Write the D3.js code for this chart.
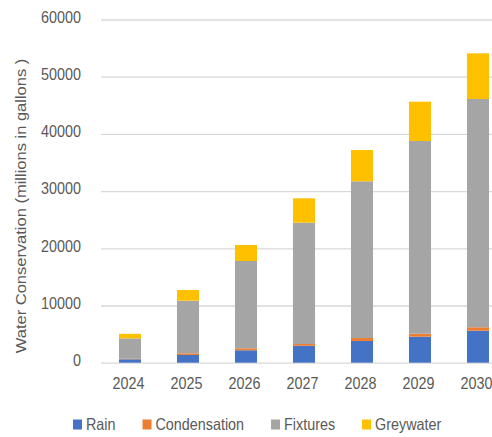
<!DOCTYPE html>
<html>
<head>
<meta charset="utf-8">
<script src="https://cdn.jsdelivr.net/npm/d3@7"></script>
<style>
  html, body { margin: 0; padding: 0; background: #fff; }
  text { font-family: "Liberation Sans", Arial, sans-serif; fill: #595959; }
</style>
</head>
<body>
<svg id="chart"></svg>
<script>
const years = ["2024", "2025", "2026", "2027", "2028", "2029", "2030"];
const rain = [600, 1350, 2170, 2970, 3790, 4550, 5590];
const condensation = [80, 290, 350, 300, 530, 520, 600];
const fixtures = [3570, 9200, 15260, 21210, 27390, 33690, 39910];
const greywater = [800, 1870, 2800, 4260, 5480, 6870, 7990];
const seriesNames = ["Rain", "Condensation", "Fixtures", "Greywater"];
const yTicks = [0, 10000, 20000, 30000, 40000, 50000, 60000];
const colors = ["#4472C4", "#ED7D31", "#A5A5A5", "#FFC000"];

const svgWidth = 492, svgHeight = 437;
const plot = {left: 101, right: 507, top: 19.5, bottom: 362.7};
const squeeze = 0.87; // text in the picture is narrowed sideways
const fontSize = 16.5;

const chart = d3.select("#chart")
    .attr("width", svgWidth)
    .attr("height", svgHeight);

// rows for the stack
const rows = years.map(function(y, i) {
    return {year: y, Rain: rain[i], Condensation: condensation[i],
            Fixtures: fixtures[i], Greywater: greywater[i]};
});
const stacked = d3.stack().keys(seriesNames)(rows);

var xScale = d3.scaleBand()
    .domain(years)
    .range([plot.left, plot.right])
    .paddingInner(0.62)
    .paddingOuter(0.31);
var yScale = d3.scaleLinear()
    .domain([0, 60000])
    .range([plot.bottom, plot.top]);

// y axis + grid
var yAxis = d3.axisLeft(yScale)
    .tickValues(yTicks)
    .tickFormat(d3.format("d"))
    .tickSize(-(svgWidth - plot.left));
var gy = chart.append("g")
    .attr("transform", `translate(${plot.left},0)`)
    .call(yAxis);
gy.select(".domain").remove();
gy.selectAll(".tick line").attr("stroke", "#d9d9d9").attr("stroke-width", 1.3);
gy.selectAll(".tick text")
    .attr("x", 0).attr("dy", "0.35em")
    .attr("font-size", fontSize)
    .attr("text-anchor", "end")
    .attr("transform", `translate(-20,-3) scale(${squeeze},1)`);

// bars
chart.append("g").selectAll("g")
    .data(stacked)
    .join("g")
    .attr("fill", function(d, i) { return colors[i]; })
    .selectAll("rect")
    .data(function(d) { return d; })
    .join("rect")
    .attr("x", function(d) { return xScale(d.data.year); })
    .attr("width", xScale.bandwidth())
    .attr("y", function(d) { return yScale(d[1]); })
    .attr("height", function(d) { return yScale(d[0]) - yScale(d[1]); });

// x axis labels
var xAxis = d3.axisBottom(xScale).tickSize(0);
var gx = chart.append("g")
    .attr("transform", `translate(0,${plot.bottom})`)
    .call(xAxis);
gx.select(".domain").remove();
gx.selectAll(".tick text")
    .attr("y", 0).attr("dy", null)
    .attr("font-size", fontSize)
    .attr("transform", `translate(-1.5,26.3) scale(${squeeze},1)`);

// y title
chart.append("text")
    .attr("transform", `translate(21,206) scale(${squeeze},1) rotate(-90)`)
    .attr("text-anchor", "middle")
    .attr("dy", "0.35em")
    .attr("font-size", fontSize)
    .text("Water Conservation (millions in gallons )");

// legend
var lx = 73;
seriesNames.forEach(function(name, i) {
    var item = chart.append("g").attr("transform", `translate(${lx},419.5)`);
    item.append("rect")
        .attr("width", 9).attr("height", 10)
        .attr("fill", colors[i]);
    var t = item.append("text")
        .attr("font-size", fontSize)
        .attr("dy", "0.35em")
        .attr("transform", `translate(13,5) scale(${squeeze},1)`)
        .text(name);
    lx += 40 + t.node().getComputedTextLength() * squeeze;
});
</script>
</body>
</html>
